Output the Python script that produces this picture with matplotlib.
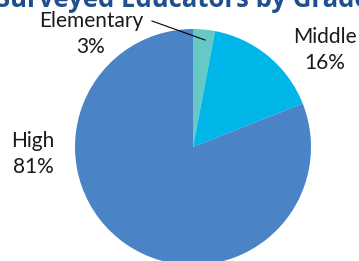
import matplotlib.pyplot as plt

labels = ['Elementary', 'Middle', 'High']
shares = [3, 16, 81]
colors = ['#66c9c6', '#00b6e8', '#4a84c6']

W, H = 359, 261
fig = plt.figure(figsize=(W / 100, H / 100), dpi=100)

# pie centre (193,147) px from top, radius 118 px
r = 118
cx, cy = 193, H - 147
ax = fig.add_axes([(cx - r) / W, (cy - r) / H, 2 * r / W, 2 * r / H])
ax.pie(shares, colors=colors, startangle=90, counterclock=False, radius=1,
       wedgeprops=dict(linewidth=0))
ax.set_xlim(-1, 1)
ax.set_ylim(-1, 1)
ax.set_aspect('equal')
ax.axis('off')

font = dict(family=['Lato', 'DejaVu Sans'], fontsize=15, color='#1a1a1a',
            ha='center', va='baseline')
# (x centre, baseline of first line) in px from top-left
label_pos = [(91, 27), (325, 43), (33, 147)]
for lab, val, (x, y) in zip(labels, shares, label_pos):
    fig.text(x / W, 1 - y / H, lab, **font)
    fig.text(x / W, 1 - (y + 26) / H, f'{val}%', **font)

# leader line for Elementary
fig.add_artist(plt.Line2D([152 / W, 205 / W], [1 - 21 / H, 1 - 40 / H],
                          color='black', linewidth=0.8))

# title, cut off at the top edge
fig.text(-4 / W, 1 - 7 / H, 'Surveyed Educators by Grade Level',
         family=['Open Sans', 'DejaVu Sans'], fontsize=18.5, fontweight='bold',
         color='#1f4f8f', ha='left', va='baseline')

fig.savefig('out.png', dpi=100)
